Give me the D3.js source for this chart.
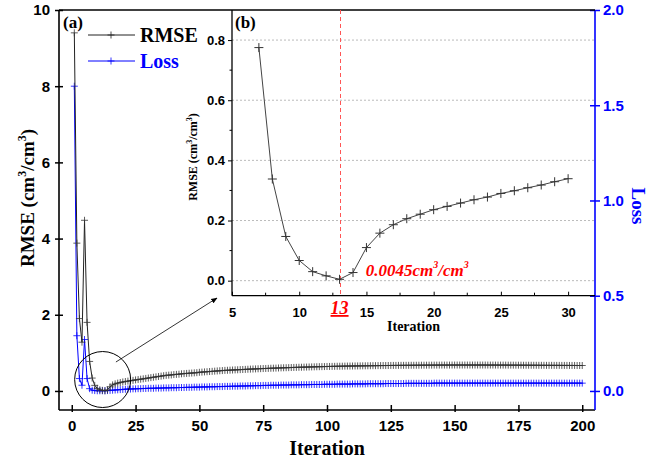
<!DOCTYPE html>
<html>
<head>
<meta charset="utf-8">
<script src="https://cdn.jsdelivr.net/npm/d3@7"></script>
<style>
  body { margin: 0; background: #fff; }
  svg { font-family: "Liberation Serif", "Times New Roman", serif; font-weight: bold; }
</style>
</head>
<body>
<div class="chart"></div>
<script>
// RMSE (cm3/cm3) per iteration 1..200
const rmse = [
  9.40, 3.88, 1.90, 1.28, 4.48, 1.80, 0.775, 0.338, 0.147, 0.067,
  0.030, 0.016, 0.0045, 0.027, 0.110, 0.158, 0.186, 0.206, 0.221, 0.236,
  0.247, 0.258, 0.269, 0.278, 0.290, 0.299, 0.309, 0.318, 0.329, 0.339,
  0.35, 0.36, 0.37, 0.38, 0.39, 0.40, 0.41, 0.415, 0.42, 0.43,
  0.435, 0.44, 0.45, 0.455, 0.46, 0.465, 0.47, 0.475, 0.48, 0.49,
  0.495, 0.50, 0.505, 0.51, 0.515, 0.52, 0.525, 0.53, 0.535, 0.54,
  0.543, 0.546, 0.55, 0.553, 0.556, 0.56, 0.563, 0.566, 0.57, 0.573,
  0.576, 0.579, 0.582, 0.585, 0.588, 0.59, 0.593, 0.596, 0.598, 0.60,
  0.603, 0.606, 0.608, 0.61, 0.612, 0.615, 0.617, 0.619, 0.621, 0.623,
  0.625, 0.627, 0.629, 0.631, 0.633, 0.635, 0.637, 0.638, 0.64, 0.642,
  0.643, 0.645, 0.646, 0.648, 0.649, 0.65, 0.652, 0.653, 0.654, 0.655,
  0.656, 0.657, 0.658, 0.659, 0.66, 0.661, 0.662, 0.663, 0.664, 0.665,
  0.666, 0.667, 0.667, 0.668, 0.669, 0.67, 0.67, 0.671, 0.672, 0.672,
  0.673, 0.673, 0.674, 0.674, 0.675, 0.675, 0.676, 0.676, 0.677, 0.677,
  0.677, 0.678, 0.678, 0.678, 0.679, 0.679, 0.679, 0.679, 0.68, 0.68,
  0.68, 0.68, 0.68, 0.68, 0.68, 0.68, 0.68, 0.68, 0.68, 0.68,
  0.68, 0.68, 0.679, 0.679, 0.679, 0.679, 0.678, 0.678, 0.678, 0.678,
  0.677, 0.677, 0.677, 0.676, 0.676, 0.676, 0.675, 0.675, 0.675, 0.674,
  0.674, 0.674, 0.673, 0.673, 0.673, 0.672, 0.672, 0.672, 0.671, 0.671,
  0.671, 0.67, 0.67, 0.67, 0.669, 0.669, 0.669, 0.668, 0.668, 0.668
]

// Loss per iteration 1..200
const loss = [
  1.60, 0.29, 0.065, 0.03, 0.27, 0.065, 0.012, 0.004, 0.002, 0.001,
  0.001, 0.001, 0.001, 0.002, 0.003, 0.004, 0.005, 0.006, 0.007, 0.008,
  0.009, 0.010, 0.010, 0.011, 0.011, 0.012, 0.012, 0.013, 0.013, 0.014,
  0.014, 0.014, 0.015, 0.015, 0.015, 0.016, 0.016, 0.016, 0.017, 0.017,
  0.017, 0.018, 0.018, 0.018, 0.019, 0.019, 0.019, 0.020, 0.020, 0.020,
  0.021, 0.021, 0.021, 0.022, 0.022, 0.022, 0.023, 0.023, 0.023, 0.024,
  0.024, 0.024, 0.025, 0.025, 0.025, 0.026, 0.026, 0.026, 0.027, 0.027,
  0.027, 0.028, 0.028, 0.028, 0.029, 0.029, 0.029, 0.030, 0.030, 0.030,
  0.030, 0.031, 0.031, 0.031, 0.031, 0.032, 0.032, 0.032, 0.032, 0.033,
  0.033, 0.033, 0.033, 0.034, 0.034, 0.034, 0.034, 0.034, 0.035, 0.035,
  0.035, 0.035, 0.035, 0.036, 0.036, 0.036, 0.036, 0.036, 0.036, 0.037,
  0.037, 0.037, 0.037, 0.037, 0.037, 0.038, 0.038, 0.038, 0.038, 0.038,
  0.038, 0.038, 0.039, 0.039, 0.039, 0.039, 0.039, 0.039, 0.039, 0.039,
  0.040, 0.040, 0.040, 0.040, 0.040, 0.040, 0.040, 0.040, 0.040, 0.040,
  0.040, 0.041, 0.041, 0.041, 0.041, 0.041, 0.041, 0.041, 0.041, 0.041,
  0.041, 0.041, 0.041, 0.041, 0.041, 0.041, 0.041, 0.041, 0.041, 0.041,
  0.041, 0.041, 0.041, 0.041, 0.041, 0.041, 0.041, 0.041, 0.041, 0.041,
  0.041, 0.041, 0.041, 0.041, 0.041, 0.041, 0.041, 0.041, 0.041, 0.041,
  0.041, 0.041, 0.041, 0.041, 0.041, 0.041, 0.041, 0.041, 0.041, 0.041,
  0.041, 0.041, 0.041, 0.041, 0.041, 0.041, 0.041, 0.041, 0.041, 0.041
]

const xTicks = [0, 25, 50, 75, 100, 125, 150, 175, 200]
const yLeftTicks = [0, 2, 4, 6, 8, 10]
const yRightTicks = [0, 0.5, 1.0, 1.5, 2.0]
const insetXTicks = [5, 10, 15, 20, 25, 30]
const insetYTicks = [0, 0.2, 0.4, 0.6, 0.8]
const bestIter = 13
const bestLabel = '0.0045'

const W = 663, H = 462
const blue = '#0000ff'

const svg = d3.select('.chart')
    .append('svg')
    .attr('width', W)
    .attr('height', H)

const x = d3.scaleLinear().domain([-5, 205]).range([59, 595])
const yL = d3.scaleLinear().domain([-0.5, 10]).range([410, 10])
const yR = d3.scaleLinear().domain([-0.1, 2]).range([410, 10])

const xi = d3.scaleLinear().domain([5, 32]).range([232, 595])
const yi = d3.scaleLinear().domain([-0.05, 0.9]).range([295.7, 10])

const plus = s => `M${-s},0H${s}M0,${-s}V${s}`

const rmsePts = rmse.map((v, i) => ({it: i + 1, v}))
const lossPts = loss.map((v, i) => ({it: i + 1, v}))

// ---- main series
const lineL = d3.line().x(d => x(d.it)).y(d => yL(d.v))
const lineR = d3.line().x(d => x(d.it)).y(d => yR(d.v))

svg.append('path').datum(lossPts)
    .attr('d', lineR).attr('fill', 'none').attr('stroke', blue).attr('stroke-width', 1)
svg.append('g').selectAll('path').data(lossPts).join('path')
    .attr('transform', d => `translate(${x(d.it)},${yR(d.v)})`)
    .attr('d', plus(3.5)).attr('stroke', blue).attr('stroke-width', 0.8)

svg.append('path').datum(rmsePts)
    .attr('d', lineL).attr('fill', 'none').attr('stroke', '#222').attr('stroke-width', 1)
svg.append('g').selectAll('path').data(rmsePts).join('path')
    .attr('transform', d => `translate(${x(d.it)},${yL(d.v)})`)
    .attr('d', plus(3.5)).attr('stroke', '#333').attr('stroke-width', 0.8)

// ---- main axes
const gx = svg.append('g').attr('transform', 'translate(0,410)')
    .call(d3.axisBottom(x).tickValues(xTicks).tickSize(0).tickPadding(10))
gx.select('.domain').attr('d', `M59,0H595`).attr('stroke', '#000').attr('stroke-width', 1.6)
gx.selectAll('.tick').append('line').attr('y1', -5).attr('y2', 2).attr('stroke', '#000').attr('stroke-width', 1.5)
gx.selectAll('text').attr('font-size', 15).attr('fill', '#000').attr('font-family', null)

const gyL = svg.append('g').attr('transform', 'translate(59,0)')
    .call(d3.axisLeft(yL).tickValues(yLeftTicks).tickSize(0).tickPadding(9))
gyL.select('.domain').attr('d', 'M0,10V410').attr('stroke', '#000').attr('stroke-width', 1.6)
gyL.selectAll('.tick').append('line').attr('x1', -4).attr('x2', 4).attr('stroke', '#000').attr('stroke-width', 1.5)
gyL.selectAll('text').attr('font-size', 15).attr('fill', '#000').attr('font-family', null)

const gyR = svg.append('g').attr('transform', 'translate(595,0)')
    .call(d3.axisRight(yR).tickValues(yRightTicks).tickSize(0).tickPadding(8).tickFormat(d3.format('.1f')))
gyR.select('.domain').attr('d', 'M0,10V410').attr('stroke', blue).attr('stroke-width', 1.6)
gyR.selectAll('.tick').append('line').attr('x1', -5).attr('x2', 5).attr('stroke', blue).attr('stroke-width', 1.5)
gyR.selectAll('text').attr('font-size', 15).attr('fill', blue).attr('font-family', null)

// top frame
svg.append('line').attr('x1', 59).attr('x2', 595).attr('y1', 10).attr('y2', 10)
    .attr('stroke', '#000').attr('stroke-width', 1.6)

// axis titles
svg.append('text').attr('x', x(100)).attr('y', 455).attr('text-anchor', 'middle')
    .attr('font-size', 20).text('Iteration')

const yTitle = svg.append('text')
    .attr('transform', 'translate(34,198) rotate(-90)')
    .attr('text-anchor', 'middle').attr('font-size', 19)
yTitle.append('tspan').text('RMSE (cm')
yTitle.append('tspan').attr('font-size', 12).attr('dy', -8).text('3')
yTitle.append('tspan').attr('dy', 8).text('/cm')
yTitle.append('tspan').attr('font-size', 12).attr('dy', -8).text('3')
yTitle.append('tspan').attr('dy', 8).text(')')

svg.append('text').attr('transform', 'translate(632,206) rotate(90)')
    .attr('text-anchor', 'middle').attr('font-size', 19).attr('fill', blue).text('Loss')

// legend
svg.append('text').attr('x', 63).attr('y', 28).attr('font-size', 17).text('(a)')
const legend = [{name: 'RMSE', color: '#222', y: 35}, {name: 'Loss', color: blue, y: 61}]
const lg = svg.append('g').selectAll('g').data(legend).join('g')
    .attr('transform', d => `translate(0,${d.y})`)
lg.append('line').attr('x1', 88).attr('x2', 135).attr('stroke', d => d.color).attr('stroke-width', 1)
lg.append('path').attr('transform', 'translate(111,0)').attr('d', plus(3.5))
    .attr('stroke', d => d.color).attr('stroke-width', 0.8)
lg.append('text').attr('x', 140).attr('y', 7).attr('font-size', 20)
    .attr('fill', d => d.color === blue ? blue : '#000').text(d => d.name)

// zoom circle + arrow
svg.append('circle').attr('cx', x(12.1)).attr('cy', yL(0.3)).attr('r', 28)
    .attr('fill', 'none').attr('stroke', '#000').attr('stroke-width', 1)
svg.append('defs').append('marker').attr('id', 'arr')
    .attr('viewBox', '0 0 10 10').attr('refX', 9).attr('refY', 5)
    .attr('markerWidth', 8).attr('markerHeight', 8).attr('orient', 'auto')
    .append('path').attr('d', 'M0,1L10,5L0,9Z').attr('fill', '#000')
svg.append('line').attr('x1', x(17.3)).attr('y1', yL(0.76)).attr('x2', x(56.9)).attr('y2', yL(2.44))
    .attr('stroke', '#000').attr('stroke-width', 0.8).attr('marker-end', 'url(#arr)')

// ---- inset
const inset = svg.append('g')
inset.append('g').selectAll('line').data(insetYTicks).join('line')
    .attr('x1', 232).attr('x2', 595).attr('y1', d => yi(d)).attr('y2', d => yi(d))
    .attr('stroke', '#bbb').attr('stroke-width', 1).attr('stroke-dasharray', '2,2')

const bx = Math.round(xi(bestIter)) + 0.5
inset.append('line').attr('x1', bx).attr('x2', bx).attr('y1', 10).attr('y2', 295.7)
    .attr('stroke', '#ff5555').attr('stroke-width', 1).attr('stroke-dasharray', '4,3')
    .attr('shape-rendering', 'crispEdges')

const insetPts = rmsePts.filter(d => d.it >= 7 && d.it <= 30)
const lineI = d3.line().x(d => xi(d.it)).y(d => yi(d.v))
inset.append('path').datum(insetPts).attr('d', lineI)
    .attr('fill', 'none').attr('stroke', '#444').attr('stroke-width', 1)
inset.append('g').selectAll('path').data(insetPts).join('path')
    .attr('transform', d => `translate(${xi(d.it)},${yi(d.v)})`)
    .attr('d', plus(4.5)).attr('stroke', '#333').attr('stroke-width', 1)

const gxi = inset.append('g').attr('transform', 'translate(0,295.7)')
    .call(d3.axisBottom(xi).tickValues(insetXTicks).tickSize(0).tickPadding(12))
gxi.select('.domain').attr('d', 'M232,0H595').attr('stroke', '#000').attr('stroke-width', 1.3)
gxi.selectAll('.tick').append('line').attr('y1', 0).attr('y2', -4).attr('stroke', '#000')
gxi.selectAll('text').attr('font-size', 13).attr('fill', '#000').attr('font-family', null)
inset.append('g').selectAll('line').data(d3.range(7.5, 32, 5)).join('line')
    .attr('x1', d => xi(d)).attr('x2', d => xi(d)).attr('y1', 295.7).attr('y2', 292.7).attr('stroke', '#000')

const gyi = inset.append('g').attr('transform', 'translate(232,0)')
    .call(d3.axisLeft(yi).tickValues(insetYTicks).tickSize(4).tickPadding(3).tickFormat(d3.format('.1f')))
gyi.select('.domain').attr('d', 'M0,10V295.7').attr('stroke', '#000').attr('stroke-width', 1.3)
gyi.selectAll('text').attr('font-size', 13).attr('fill', '#000').attr('font-family', null)
inset.append('g').selectAll('line').data([0.1, 0.3, 0.5, 0.7]).join('line')
    .attr('x1', 229.5).attr('x2', 232).attr('y1', d => yi(d)).attr('y2', d => yi(d)).attr('stroke', '#000')

inset.append('text').attr('x', 235).attr('y', 28).attr('font-size', 17).text('(b)')
inset.append('text').attr('x', xi(18.5)).attr('y', 331).attr('text-anchor', 'middle')
    .attr('font-size', 14).text('Iteration')

const yiTitle = inset.append('text')
    .attr('transform', 'translate(197,157) rotate(-90)')
    .attr('text-anchor', 'middle').attr('font-size', 12)
yiTitle.append('tspan').text('RMSE (cm')
yiTitle.append('tspan').attr('font-size', 8).attr('dy', -5).text('3')
yiTitle.append('tspan').attr('dy', 5).text('/cm')
yiTitle.append('tspan').attr('font-size', 8).attr('dy', -5).text('3')
yiTitle.append('tspan').attr('dy', 5).text(')')

inset.append('text').attr('x', xi(bestIter)).attr('y', 314).attr('text-anchor', 'middle')
    .attr('font-size', 18).attr('font-style', 'italic').attr('fill', '#ff0000')
    .attr('text-decoration', 'underline').text(bestIter)

const ann = inset.append('text').attr('x', xi(14.95)).attr('y', 276)
    .attr('font-size', 17).attr('font-style', 'italic').attr('fill', '#ff0000')
ann.append('tspan').text(bestLabel + 'cm')
ann.append('tspan').attr('font-size', 10).attr('dy', -8).text('3')
ann.append('tspan').attr('dy', 8).text('/cm')
ann.append('tspan').attr('font-size', 10).attr('dy', -8).text('3')
</script>
</body>
</html>
